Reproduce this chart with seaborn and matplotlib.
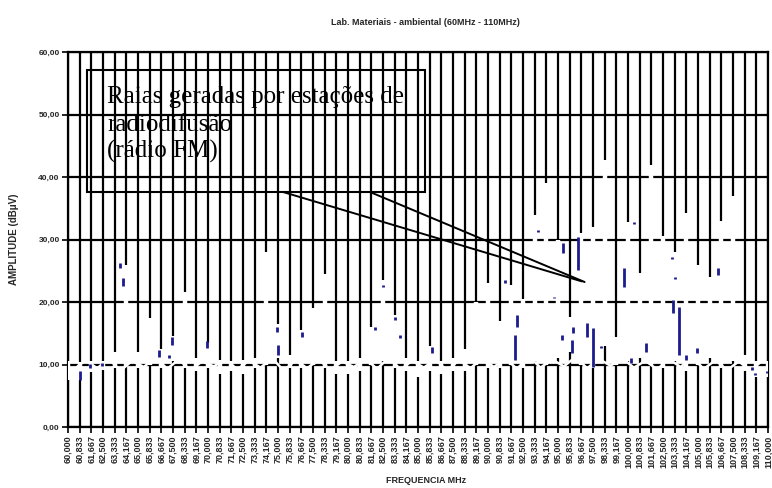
import matplotlib
matplotlib.use("Agg")
import matplotlib.pyplot as plt
from matplotlib.patches import Rectangle
import seaborn as sns

TITLE = "Lab. Materiais - ambiental (60MHz - 110MHz)"
X_LABEL = "FREQUENCIA MHz"
Y_LABEL = "AMPLITUDE (dBμV)"
NOTE = ["Raias geradas por estações de", "radiodifusão", "(rádio FM)"]

# labelled measurement channels (MHz)
freq_labels = [
    "60,000", "60,833", "61,667", "62,500", "63,333", "64,167", "65,000", "65,833",
    "66,667", "67,500", "68,333", "69,167", "70,000", "70,833", "71,667", "72,500",
    "73,333", "74,167", "75,000", "75,833", "76,667", "77,500", "78,333", "79,167",
    "80,000", "80,833", "81,667", "82,500", "83,333", "84,167", "85,000", "85,833",
    "86,667", "87,500", "88,333", "89,167", "90,000", "90,833", "91,667", "92,500",
    "93,333", "94,167", "95,000", "95,833", "96,667", "97,500", "98,333", "99,167",
    "100,000", "100,833", "101,667", "102,500", "103,333", "104,167", "105,000",
    "105,833", "106,667", "107,500", "108,333", "109,167", "110,000",
]
chan_freq = [float(s.replace(",", ".")) for s in freq_labels]

amp_ticks = [0, 10, 20, 30, 40, 50, 60]
amp_labels = ["0,00", "10,00", "20,00", "30,00", "40,00", "50,00", "60,00"]

# amplitude range swept by the trace inside each channel (dBuV)
chan_low = [7.5, 7.6, 8.8, 9.2, 9.5, 9.8, 9.5, 10.0, 9.5, 10.5, 9.5, 9.0, 9.5, 8.5, 9.0, 8.5,
            9.5, 10.0, 11.0, 9.5, 9.5, 10.0, 9.5, 8.5, 8.5, 9.0, 10.0, 10.5, 9.5, 9.0, 8.0, 9.0,
            8.5, 9.0, 9.0, 10.0, 9.5, 9.5, 10.0, 9.5, 10.5, 10.0, 11.0, 12.0, 10.0, 9.5, 13.0,
            10.0, 10.5, 11.0, 10.0, 9.5, 10.5, 9.0, 10.0, 11.0, 9.5, 10.5, 9.0, 8.0, 8.0]
chan_high = [10.5, 10.4, 10.6, 10.5, 12.0, 26.0, 12.0, 17.5, 12.5, 14.5, 21.6, 11.0, 13.5,
             10.8, 10.6, 10.8, 11.0, 28.0, 16.5, 11.5, 15.5, 19.0, 24.5, 10.5, 10.5, 11.0,
             16.0, 23.5, 18.0, 11.0, 10.5, 13.0, 10.5, 11.0, 12.5, 20.0, 23.0, 17.0, 22.7,
             20.5, 34.0, 39.0, 30.0, 17.6, 31.0, 32.0, 42.7, 14.4, 32.8, 24.6, 42.0, 30.5,
             28.0, 34.2, 26.0, 24.0, 33.0, 37.0, 11.5, 10.5, 10.5]

# noise floor between neighbouring channels (dBuV)
floor_freq = [60.42, 61.25, 62.08, 62.92, 63.75, 64.58, 65.42, 66.25, 67.08, 67.92,
              68.75, 69.58, 70.42, 71.25, 72.08, 72.92, 73.75, 74.58, 75.42, 76.25,
              77.08, 77.92, 78.75, 79.58, 80.42, 81.25, 82.08, 82.92, 83.75, 84.58,
              85.42, 86.25, 87.08, 87.92, 88.75, 89.58, 90.42, 91.25, 92.08, 92.92,
              93.75, 94.58, 95.42, 96.25, 97.08, 97.92, 98.75, 99.58, 100.42, 101.25,
              102.08, 102.92, 103.75, 104.58, 105.42, 106.25, 107.08, 107.92, 108.75, 109.58]
floor_level = [9.2, 10.7, 9.4, 10.9, 9.0, 10.6, 9.6, 11.2, 9.3, 10.8, 9.1, 10.5, 9.7, 10.9,
               9.2, 10.6, 9.5, 11.0, 9.0, 10.7, 9.4, 10.8, 9.1, 10.5, 9.6, 10.9, 9.3, 11.1,
               9.2, 10.6, 9.5, 10.8, 9.0, 10.7, 9.4, 11.0, 9.6, 10.9, 9.3, 11.3, 9.5, 10.8,
               9.7, 11.2, 9.4, 10.9, 9.8, 11.0, 9.5, 10.6, 9.2, 10.9, 9.6, 11.1, 9.3, 10.7,
               9.1, 10.5, 9.0, 10.6]

# strongest samples of the measured spectrum
peak_freq = [60.85, 61.6, 62.45, 63.7, 63.95, 66.5, 67.2, 67.45, 69.95, 74.95, 75.0, 76.7,
             81.9, 82.5, 83.35, 83.7, 86.0, 91.2, 91.95, 92.05, 93.55, 94.7, 95.3, 95.35,
             96.0, 96.1, 96.4, 97.05, 97.5, 98.1, 99.7, 100.2, 100.45, 101.3, 103.15,
             103.2, 103.35, 103.65, 104.15, 104.9, 106.45, 108.85, 109.1, 109.9]
peak_lo = [7.6, 9.4, 9.7, 25.4, 22.5, 11.2, 11.0, 13.1, 12.6, 15.2, 11.5, 14.4, 15.6, 22.4,
           17.2, 14.3, 11.8, 23.0, 10.7, 16.0, 31.2, 20.6, 13.9, 27.8, 11.8, 15.0, 25.1, 14.4,
           9.6, 12.6, 22.4, 10.2, 32.5, 12.0, 26.9, 18.2, 23.7, 11.5, 10.7, 11.8, 24.3, 9.2,
           8.3, 8.7]
peak_hi = [9.0, 10.1, 10.2, 26.2, 23.8, 12.3, 11.5, 14.4, 13.8, 16.0, 13.1, 15.2, 16.0, 22.8,
           17.6, 14.7, 12.8, 23.5, 14.7, 17.9, 31.5, 20.8, 14.7, 29.4, 13.9, 16.0, 30.4, 16.6,
           15.8, 13.0, 25.4, 11.0, 32.8, 13.4, 27.2, 20.3, 24.0, 19.2, 11.5, 12.6, 25.4, 9.6,
           8.7, 9.0]

sns.set_theme(style="white")
plt.rcParams["font.family"] = ["Liberation Sans", "DejaVu Sans"]

fig = plt.figure(figsize=(7.72, 4.88), dpi=100)
ax = fig.add_axes([68 / 772, 61 / 488, 700 / 772, 375 / 488])

ax.set_xlim(60, 110)
ax.set_ylim(0, 60)
ax.set_axisbelow(True)
ax.grid(True, color="black", lw=1.6)
for sp in ax.spines.values():
    sp.set_color("black")
    sp.set_linewidth(1.6)

ax.set_xticks(chan_freq)
ax.set_xticklabels(freq_labels, rotation=90, fontsize=6.5, fontweight="bold")
ax.set_yticks(amp_ticks)
ax.set_yticklabels(amp_labels, fontsize=6, fontweight="bold")
ax.tick_params(axis="both", direction="out", length=4, width=1.2, color="black",
               bottom=True, left=True, pad=2)

# spectrum trace: light envelope per channel, floor ripple, strongest samples
ax.vlines(chan_freq, chan_low, chan_high, colors="white", lw=3.2, zorder=3)
sns.lineplot(x=floor_freq, y=floor_level, color="white", lw=1.8, ax=ax,
             estimator=None, sort=False, zorder=3)
ax.vlines(peak_freq, peak_lo, peak_hi, colors="#1c1c8c", lw=2, zorder=4)

# annotation for the FM broadcast lines
ax.add_patch(Rectangle((61.36, 37.6), 85.5 - 61.36, 57.1 - 37.6, fill=False,
                       ec="black", lw=1.5, zorder=5))
for txt, yb in zip(NOTE, [51.84, 47.36, 43.04]):
    ax.text(62.79, yb, txt, family="Liberation Serif", fontsize=18, va="baseline",
            ha="left", color="black", zorder=6)
ax.plot([75.36, 96.7], [37.6, 23.3], color="black", lw=1.4, zorder=5)
ax.plot([81.57, 96.9], [37.6, 23.2], color="black", lw=1.4, zorder=5)

ax.set_xlabel(X_LABEL, fontsize=6.5, fontweight="bold")
ax.xaxis.set_label_coords(0.511, -0.13)
ax.set_ylabel(Y_LABEL, fontsize=7, fontweight="bold")
ax.yaxis.set_label_coords(-0.07, 0.5)
ax.set_title(TITLE, fontsize=6.5, fontweight="bold", y=1.072, pad=0)
ax.title.set_x(0.511)

fig.savefig("out.png", dpi=100)
